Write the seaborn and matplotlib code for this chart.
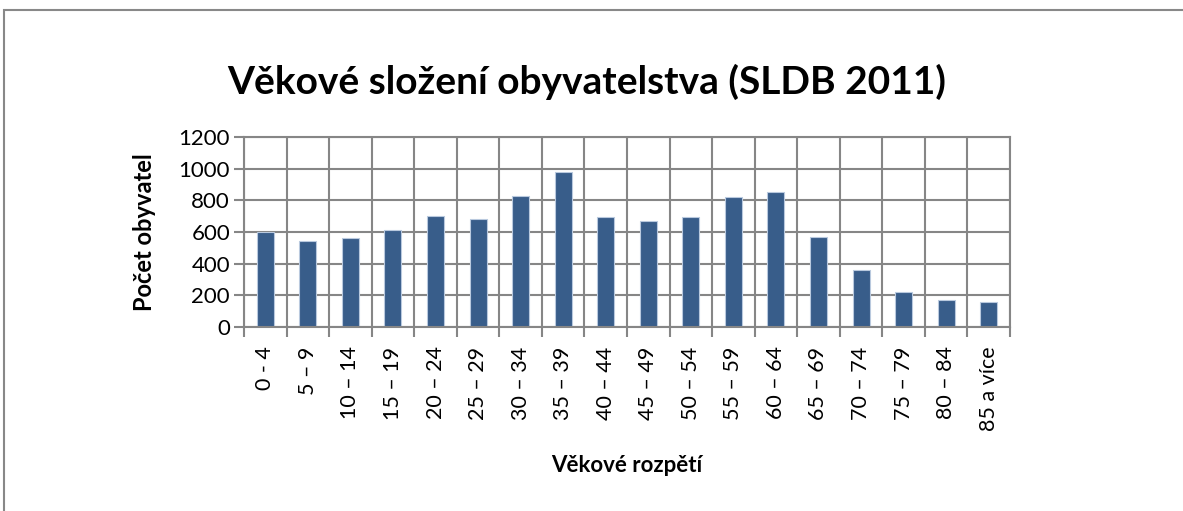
import matplotlib
matplotlib.use("Agg")
import matplotlib.pyplot as plt
import seaborn as sns
import pandas as pd
from matplotlib.patches import Rectangle
from matplotlib.transforms import Bbox, TransformedBbox

categories = ["0 - 4", "5 – 9", "10 – 14", "15 – 19", "20 – 24", "25 – 29", "30 – 34",
              "35 – 39", "40 – 44", "45 – 49", "50 – 54", "55 – 59", "60 – 64",
              "65 – 69", "70 – 74", "75 – 79", "80 – 84", "85 a více"]
values = [600, 541, 560, 612, 699, 680, 827, 978, 697, 667, 692, 822, 852, 569, 359, 220, 170, 159]
yticks = [0, 200, 400, 600, 800, 1000, 1200]

sns.set_theme(style="white")
plt.rcParams['font.family'] = ['Lato', 'DejaVu Sans']

fig = plt.figure(figsize=(11.83, 5.11), dpi=100)
ax = fig.add_axes([244/1183, 1-327/511, (1010-244)/1183, (327-137)/511])

df = pd.DataFrame({"cat": categories, "val": values})
sns.barplot(data=df, x="cat", y="val", color="#385D8A", width=0.4, ax=ax,
            edgecolor="#B9C9DE", linewidth=0.8, saturation=1)

grid_c = "#868686"
ax.set_xlim(-0.5, len(categories) - 0.5)
ax.set_ylim(0, 1200)
ax.set_yticks(yticks)
ax.set_yticklabels([str(v) for v in yticks], fontsize=16, color="black")
ax.set_xticks(range(len(categories)))
ax.set_xticklabels(categories, rotation=90, fontsize=15.5, va="top", ha="center", color="black")
ax.set_xticks([i - 0.5 for i in range(len(categories) + 1)], minor=True)
ax.tick_params(axis="x", which="major", length=0, pad=14)
ax.tick_params(axis="x", which="minor", length=7, width=1.5, color=grid_c, direction="out", bottom=True)
ax.tick_params(axis="y", length=7, width=1.5, color=grid_c, direction="out", left=True, pad=3)
ax.grid(True, axis="y", color=grid_c, linewidth=1.5)
ax.grid(True, axis="x", which="minor", color=grid_c, linewidth=1.5)
ax.set_axisbelow(True)
for s in ax.spines.values():
    s.set_color(grid_c)
    s.set_linewidth(1.5)

ax.set_xlabel("")
ax.set_ylabel("")
fig.text(144/1183, 1-232/511, "Počet obyvatel", fontsize=17, fontweight="bold",
         ha="center", va="center", rotation=90, color="black")
fig.text(627/1183, 1-466/511, "Věkové rozpětí", fontsize=16, fontweight="bold",
         ha="center", va="center", color="black")
fig.text(587/1183, 1-82/511, "Věkové složení obyvatelstva (SLDB 2011)", fontsize=28,
         fontweight="bold", ha="center", va="center", color="black")

# clip tick labels at the bottom like the reference
for lbl in ax.get_xticklabels():
    lbl.set_clip_on(True)
    lbl.set_clip_box(TransformedBbox(Bbox.from_extents(0, (511-440)/511, 1, 1), fig.transFigure))

fig.patches.append(Rectangle((4/1183, -0.1), 1.2, 1.1 - 10/511, transform=fig.transFigure,
                             fill=False, edgecolor="#888888", linewidth=1.5, figure=fig))

fig.savefig("out.png", dpi=100)
